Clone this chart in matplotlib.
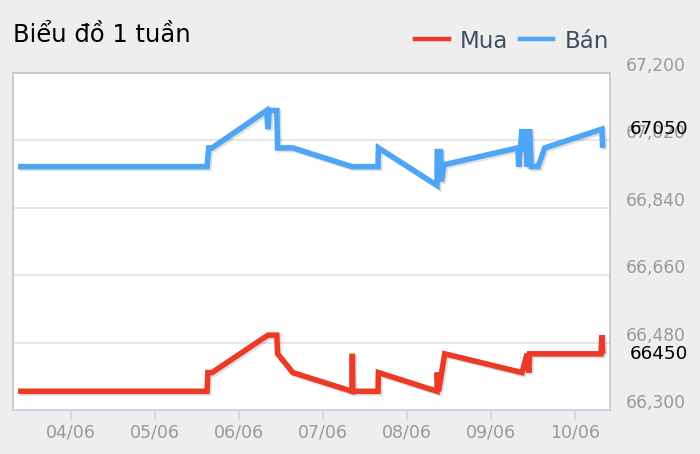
import matplotlib
matplotlib.use("Agg")
import matplotlib.pyplot as plt
import matplotlib.patheffects as pe
from matplotlib.lines import Line2D
from matplotlib.transforms import ScaledTranslation

# ---- data (x = days after 04/06 00:00) ----
tick_days = [0, 1, 2, 3, 4, 5, 6]
tick_labels = ["04/06", "05/06", "06/06", "07/06", "08/06", "09/06", "10/06"]
y_ticks = [66300, 66480, 66660, 66840, 67020, 67200]

mua_x = [-0.63, 1.62, 1.63, 1.68, 2.345, 2.45, 2.46, 2.64, 3.345, 3.35, 3.355,
         3.655, 3.66, 4.357, 4.36, 4.375, 4.45, 5.37, 5.43, 5.45, 5.46, 6.31,
         6.32, 6.33]
mua_y = [66350, 66350, 66400, 66400, 66500, 66500, 66450, 66400, 66350, 66450, 66350,
         66350, 66400, 66350, 66400, 66350, 66450, 66400, 66450, 66400, 66450, 66450,
         66500, 66450]

ban_x = [-0.63, 1.62, 1.64, 1.68, 2.33, 2.345, 2.36, 2.45, 2.46, 2.64, 3.345,
         3.655, 3.66, 4.357, 4.36, 4.40, 4.41, 4.44, 5.32, 5.33, 5.37, 5.38,
         5.41, 5.43, 5.46, 5.48, 5.56, 5.64, 6.32, 6.33]
ban_y = [66950, 66950, 67000, 67000, 67100, 67050, 67100, 67100, 67000, 67000, 66950,
         66950, 67000, 66900, 66990, 66990, 66910, 66955, 67000, 66950, 67050, 66990,
         67050, 66950, 67050, 66950, 66950, 67000, 67050, 67000]

last_labels = [("67050", 67050), ("66450", 66450)]

title = "Biểu đồ 1 tuần"
red = "#ec3a26"
blue = "#4ea5f5"

fig = plt.figure(figsize=(7.0, 4.54), dpi=100, facecolor="#eeeeee")
ax = fig.add_axes([13/700, 1-410/454, 597/700, 337/454])
ax.set_facecolor("white")

shadow = [pe.SimpleLineShadow(offset=(1.3, -1.3), shadow_color="k", alpha=0.13),
          pe.Normal()]
ax.plot(mua_x, mua_y, color=red, lw=4.0, solid_joinstyle="miter",
        solid_capstyle="butt", path_effects=shadow, zorder=3)
ax.plot(ban_x, ban_y, color=blue, lw=4.0, solid_joinstyle="miter",
        solid_capstyle="butt", path_effects=shadow, zorder=3)

ax.set_xlim(-0.69, 6.417)
ax.set_ylim(66300, 67200)

ax.set_xticks(tick_days)
ax.set_xticklabels(tick_labels)
ax.set_yticks(y_ticks)
ax.set_yticklabels([f"{v:,}" for v in y_ticks])
ax.yaxis.tick_right()
ax.grid(axis="y", color="#e2e2e2", lw=1.2)
ax.set_axisbelow(True)

ax.tick_params(axis="x", colors="#ccd6eb", length=7, width=1.3, pad=3,
               labelcolor="#999999", labelsize=12.5)
ax.tick_params(axis="y", length=0, pad=11, labelcolor="#999999", labelsize=12.3)
off = ScaledTranslation(0, 1.5/72, fig.dpi_scale_trans)
for lbl in ax.get_yticklabels():
    lbl.set_va("baseline")
    lbl.set_transform(lbl.get_transform() + off)

for s in ["top", "left", "right"]:
    ax.spines[s].set_color("#c8c8c8")
    ax.spines[s].set_linewidth(1.3)
ax.spines["bottom"].set_color("#ccd6eb")
ax.spines["bottom"].set_linewidth(1.5)

for txt, val in last_labels:
    ax.annotate(txt, xy=(1, val), xycoords=("axes fraction", "data"),
                xytext=(14, 0), textcoords="offset points", va="center",
                ha="left", fontsize=13.2, color="black")

fig.text(13/700, 1-35/454, title, fontsize=17.5, color="black", va="center",
         ha="left")

handles = [Line2D([], [], color=red, lw=3.2), Line2D([], [], color=blue, lw=3.2)]
leg = fig.legend(handles, ["Mua", "Bán"], loc="center right",
                 bbox_to_anchor=(609/700, 1-41/454), ncol=2, frameon=False,
                 fontsize=16.5, handlelength=1.45, handletextpad=0.5,
                 columnspacing=0.5, borderpad=0, borderaxespad=0)
for t in leg.get_texts():
    t.set_color("#3f4d63")

fig.savefig("out.png", dpi=100, facecolor=fig.get_facecolor())
